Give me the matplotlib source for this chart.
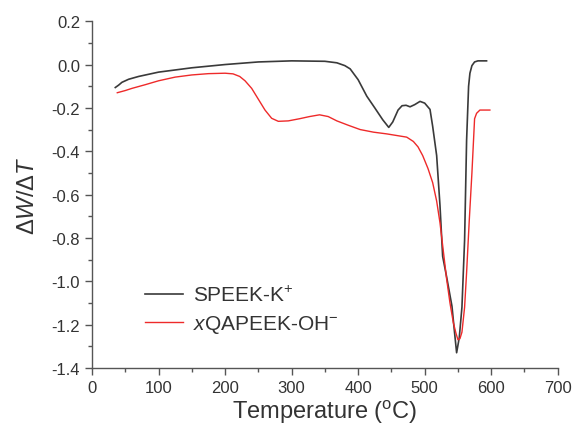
import matplotlib.pyplot as plt
from matplotlib.ticker import MultipleLocator

plt.rcParams['font.family'] = ['Liberation Sans', 'DejaVu Sans']
plt.rcParams['mathtext.fontset'] = 'custom'
plt.rcParams['mathtext.rm'] = 'Liberation Sans'
plt.rcParams['mathtext.it'] = 'Liberation Sans:italic'

# SPEEK-K+ curve (temperature in C, dW/dT)
t_speek = [35, 40, 45, 55, 70, 100, 150, 200, 250, 300, 350, 368, 380, 388, 400,
           413, 425, 437, 446, 452, 460, 466, 472, 478, 485, 493, 500, 508,
           512, 518, 523, 527, 533, 541, 545, 548, 552, 556, 560, 563, 566,
           568, 571, 575, 580, 593]
w_speek = [-0.106, -0.095, -0.082, -0.068, -0.055, -0.035, -0.015, 0.0, 0.012,
           0.017, 0.015, 0.008, -0.005, -0.02, -0.07, -0.146, -0.2, -0.255,
           -0.29, -0.265, -0.21, -0.19, -0.188, -0.195, -0.185, -0.17, -0.178,
           -0.207, -0.285, -0.42, -0.65, -0.885, -0.98, -1.115, -1.24, -1.33,
           -1.26, -1.12, -0.81, -0.35, -0.1, -0.04, -0.005, 0.012, 0.017, 0.017]

# xQAPEEK-OH- curve
t_qapeek = [38, 50, 60, 80, 100, 125, 150, 175, 200, 212, 222, 230, 240, 250,
            260, 270, 280, 295, 312, 327, 342, 355, 368, 385, 403, 423, 443,
            463, 473, 483, 490, 497, 505, 512, 518, 523, 528, 533, 538, 543,
            547, 550, 553, 556, 560, 563, 567, 571, 575, 578, 583, 590, 598]
w_qapeek = [-0.13, -0.12, -0.11, -0.093, -0.075, -0.058, -0.048, -0.042, -0.04,
            -0.043, -0.055, -0.075, -0.11, -0.16, -0.21, -0.248, -0.262, -0.26,
            -0.25, -0.24, -0.232, -0.24, -0.26, -0.28, -0.3, -0.312, -0.32,
            -0.33, -0.335, -0.355, -0.38, -0.42, -0.48, -0.545, -0.63, -0.73,
            -0.86, -0.99, -1.1, -1.19, -1.24, -1.27, -1.265, -1.235, -1.12,
            -0.96, -0.72, -0.5, -0.25, -0.225, -0.21, -0.21, -0.21]

labels = ['SPEEK-K$^{+}$', '$x$QAPEEK-OH$^{-}$']
colors = ['#3a3a3a', '#ee2a2a']
grey = '#333333'

fig = plt.figure(figsize=(5.75, 4.27), dpi=100)
ax = fig.add_axes([0.16, 0.136, 0.81, 0.812])

ax.plot(t_speek, w_speek, color=colors[0], lw=1.2, label=labels[0])
ax.plot(t_qapeek, w_qapeek, color=colors[1], lw=1.0, label=labels[1])

ax.set_xlim(0, 700)
ax.set_ylim(-1.4, 0.2)
ax.xaxis.set_major_locator(MultipleLocator(100))
ax.xaxis.set_minor_locator(MultipleLocator(50))
ax.yaxis.set_major_locator(MultipleLocator(0.2))
ax.yaxis.set_minor_locator(MultipleLocator(0.1))
ax.yaxis.set_major_formatter(plt.FuncFormatter(lambda v, p: '%.1f' % v))

for s in ['top', 'right']:
    ax.spines[s].set_visible(False)
for s in ['left', 'bottom']:
    ax.spines[s].set_color('#555555')
    ax.spines[s].set_linewidth(1.0)

ax.tick_params(which='major', direction='out', length=5, width=1.0,
               colors='#555555', labelcolor=grey, labelsize=12)
ax.tick_params(which='minor', direction='out', length=3, width=1.0,
               colors='#555555')

ax.set_xlabel('Temperature ($^{\\rm o}$C)', fontsize=17, color=grey, labelpad=2)
ax.set_ylabel('$\\Delta W/\\Delta T$', fontsize=17, color=grey, labelpad=9)

leg = ax.legend(loc='lower left', bbox_to_anchor=(0.074, 0.04), frameon=False,
                fontsize=15, handlelength=1.8, handletextpad=0.5,
                labelspacing=0.4)
for t in leg.get_texts():
    t.set_color(grey)

fig.savefig('out.png', dpi=100)
